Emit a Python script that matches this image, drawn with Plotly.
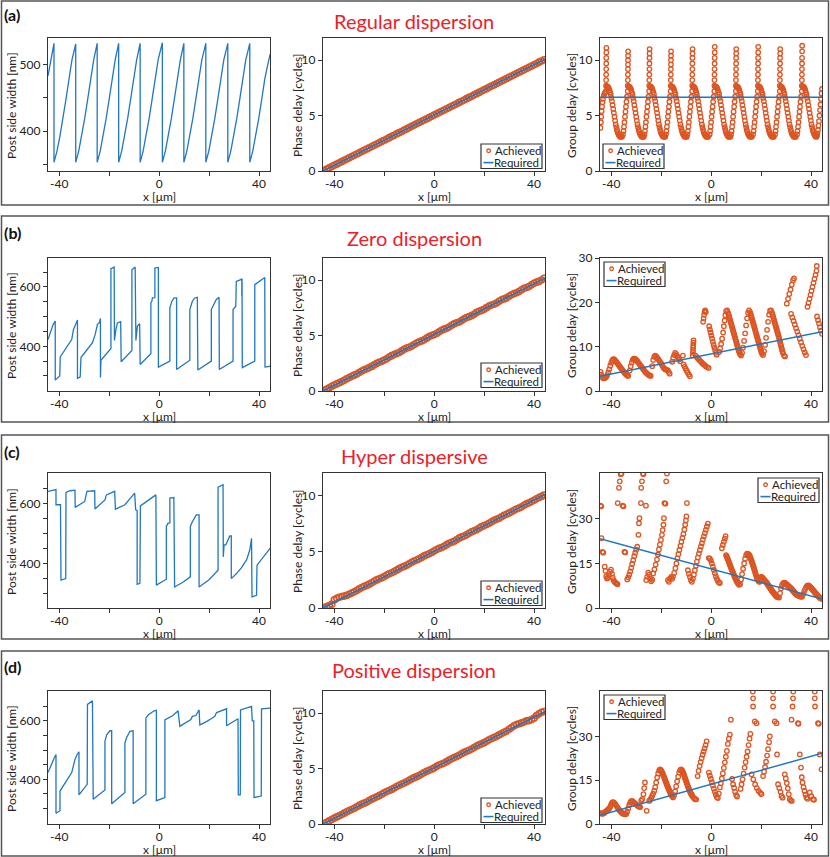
import plotly.graph_objects as go

# ---------------- data ----------------
# x positions [um] of the phase-delay markers
ph_x = [-44, -43, -42, -41, -40, -39, -38, -37, -36, -35,
        -34, -33, -32, -31, -30, -29, -28, -27, -26, -25,
        -24, -23, -22, -21, -20, -19, -18, -17, -16, -15,
        -14, -13, -12, -11, -10, -9, -8, -7, -6, -5,
        -4, -3, -2, -1, 0, 1, 2, 3, 4, 5,
        6, 7, 8, 9, 10, 11, 12, 13, 14, 15,
        16, 17, 18, 19, 20, 21, 22, 23, 24, 25,
        26, 27, 28, 29, 30, 31, 32, 33, 34, 35,
        36, 37, 38, 39, 40, 41, 42, 43, 44]
req_x = [-44.5, 44.5]

# (a) regular dispersion
sw_a_x = [-44.5, -43.3,
          -42.1, -42.1, -40.9, -39.7, -38.5, -37.3, -36.1, -34.9,
          -33.4, -33.4, -32.2, -31.0, -29.8, -28.6, -27.4, -26.2,
          -24.8, -24.8, -23.6, -22.4, -21.2, -20.0, -18.8, -17.6,
          -16.2, -16.2, -15.0, -13.8, -12.6, -11.4, -10.2, -9.0,
          -7.6, -7.6, -6.4, -5.2, -4.0, -2.8, -1.6, -0.4,
          1.3, 1.3, 2.5, 3.7, 4.9, 6.1, 7.3, 8.5,
          9.9, 9.9, 11.1, 12.3, 13.5, 14.7, 15.9, 17.1,
          18.7, 18.7, 19.9, 21.1, 22.3, 23.5, 24.7, 25.9,
          27.5, 27.5, 28.7, 29.9, 31.1, 32.3, 33.5, 34.7,
          36.3, 36.3, 37.5, 38.7, 39.9, 41.1, 42.3, 43.5, 44.5]
sw_a_y = [483, 507,
          532, 353, 370, 393, 419, 448, 478, 507,
          531, 353, 370, 393, 419, 448, 478, 507,
          532, 353, 370, 393, 419, 448, 478, 507,
          532, 353, 370, 393, 419, 448, 478, 507,
          532, 353, 370, 393, 419, 448, 478, 507,
          533, 353, 370, 393, 419, 448, 478, 507,
          532, 353, 370, 393, 419, 448, 478, 507,
          532, 353, 370, 393, 419, 448, 478, 507,
          532, 353, 370, 393, 419, 448, 478, 507,
          532, 353, 370, 393, 419, 448, 478, 500, 516]
ph_a = [0.06, 0.17, 0.28, 0.40, 0.51, 0.62, 0.74, 0.85, 0.96, 1.08,
        1.19, 1.31, 1.42, 1.53, 1.65, 1.76, 1.87, 1.99, 2.10, 2.21,
        2.33, 2.44, 2.55, 2.67, 2.78, 2.89, 3.01, 3.12, 3.23, 3.35,
        3.46, 3.57, 3.69, 3.80, 3.92, 4.03, 4.14, 4.26, 4.37, 4.48,
        4.60, 4.71, 4.82, 4.94, 5.05, 5.16, 5.28, 5.39, 5.50, 5.62,
        5.73, 5.84, 5.96, 6.07, 6.19, 6.30, 6.41, 6.53, 6.64, 6.75,
        6.87, 6.98, 7.09, 7.21, 7.32, 7.43, 7.55, 7.66, 7.77, 7.89,
        8.00, 8.11, 8.23, 8.34, 8.46, 8.57, 8.68, 8.80, 8.91, 9.02,
        9.14, 9.25, 9.36, 9.48, 9.59, 9.70, 9.82, 9.93, 10.04]
ph_req_a = [0.0, 10.1]
# group delay (a): one line per stroke (rise / near-vertical column / smooth hump)
gd_a_x = [
    -44.3, -44.15, -44.0, -43.85, -43.7, -43.5, -43.3, -43.0, -42.7, -42.4,
    -42.10, -42.08, -42.06, -42.04, -42.02, -42.00, -41.98, -41.96, -41.94,
    -41.70, -41.45, -41.20, -40.95, -40.70, -40.45, -40.20, -39.95, -39.70, -39.45, -39.20, -38.95, -38.70, -38.45, -38.20, -37.95, -37.70, -37.45, -37.20, -36.95, -36.70, -36.45, -36.20, -35.95, -35.70,
    -35.3, -35.1, -34.9, -34.7, -34.5, -34.3, -34.1, -33.9, -33.7,
    -33.40, -33.38, -33.36, -33.34, -33.32, -33.30, -33.28, -33.26, -33.24,
    -33.00, -32.75, -32.50, -32.25, -32.00, -31.75, -31.50, -31.25, -31.00, -30.75, -30.50, -30.25, -30.00, -29.75, -29.50, -29.25, -29.00, -28.75, -28.50, -28.25, -28.00, -27.75, -27.50, -27.25, -27.00,
    -26.7, -26.5, -26.3, -26.1, -25.9, -25.7, -25.5, -25.3, -25.1,
    -24.80, -24.78, -24.76, -24.74, -24.72, -24.70, -24.68, -24.66, -24.64,
    -24.40, -24.15, -23.90, -23.65, -23.40, -23.15, -22.90, -22.65, -22.40, -22.15, -21.90, -21.65, -21.40, -21.15, -20.90, -20.65, -20.40, -20.15, -19.90, -19.65, -19.40, -19.15, -18.90, -18.65, -18.40,
    -18.1, -17.9, -17.7, -17.5, -17.3, -17.1, -16.9, -16.7, -16.5,
    -16.20, -16.18, -16.16, -16.14, -16.12, -16.10, -16.08, -16.06, -16.04,
    -15.80, -15.55, -15.30, -15.05, -14.80, -14.55, -14.30, -14.05, -13.80, -13.55, -13.30, -13.05, -12.80, -12.55, -12.30, -12.05, -11.80, -11.55, -11.30, -11.05, -10.80, -10.55, -10.30, -10.05, -9.80,
    -9.5, -9.3, -9.1, -8.9, -8.7, -8.5, -8.3, -8.1, -7.9,
    -7.60, -7.58, -7.56, -7.54, -7.52, -7.50, -7.48, -7.46, -7.44,
    -7.20, -6.95, -6.70, -6.45, -6.20, -5.95, -5.70, -5.45, -5.20, -4.95, -4.70, -4.45, -4.20, -3.95, -3.70, -3.45, -3.20, -2.95, -2.70, -2.45, -2.20, -1.95, -1.70, -1.45, -1.20,
    -0.6, -0.4, -0.2, 0.0, 0.2, 0.4, 0.6, 0.8, 1.0,
    1.30, 1.32, 1.34, 1.36, 1.38, 1.40, 1.42, 1.44, 1.46,
    1.70, 1.95, 2.20, 2.45, 2.70, 2.95, 3.20, 3.45, 3.70, 3.95, 4.20, 4.45, 4.70, 4.95, 5.20, 5.45, 5.70, 5.95, 6.20, 6.45, 6.70, 6.95, 7.20, 7.45, 7.70,
    8.0, 8.2, 8.4, 8.6, 8.8, 9.0, 9.2, 9.4, 9.6,
    9.90, 9.92, 9.94, 9.96, 9.98, 10.00, 10.02, 10.04, 10.06,
    10.30, 10.55, 10.80, 11.05, 11.30, 11.55, 11.80, 12.05, 12.30, 12.55, 12.80, 13.05, 13.30, 13.55, 13.80, 14.05, 14.30, 14.55, 14.80, 15.05, 15.30, 15.55, 15.80, 16.05, 16.30,
    16.8, 17.0, 17.2, 17.4, 17.6, 17.8, 18.0, 18.2, 18.4,
    18.70, 18.72, 18.74, 18.76, 18.78, 18.80, 18.82, 18.84, 18.86,
    19.10, 19.35, 19.60, 19.85, 20.10, 20.35, 20.60, 20.85, 21.10, 21.35, 21.60, 21.85, 22.10, 22.35, 22.60, 22.85, 23.10, 23.35, 23.60, 23.85, 24.10, 24.35, 24.60, 24.85, 25.10,
    25.6, 25.8, 26.0, 26.2, 26.4, 26.6, 26.8, 27.0, 27.2,
    27.50, 27.52, 27.54, 27.56, 27.58, 27.60, 27.62, 27.64, 27.66,
    27.90, 28.15, 28.40, 28.65, 28.90, 29.15, 29.40, 29.65, 29.90, 30.15, 30.40, 30.65, 30.90, 31.15, 31.40, 31.65, 31.90, 32.15, 32.40, 32.65, 32.90, 33.15, 33.40, 33.65, 33.90,
    34.4, 34.6, 34.8, 35.0, 35.2, 35.4, 35.6, 35.8, 36.0,
    36.30, 36.32, 36.34, 36.36, 36.38, 36.40, 36.42, 36.44, 36.46,
    36.70, 36.95, 37.20, 37.45, 37.70, 37.95, 38.20, 38.45, 38.70, 38.95, 39.20, 39.45, 39.70, 39.95, 40.20, 40.45, 40.70, 40.95, 41.20, 41.45, 41.70, 41.95, 42.20,
    42.4, 42.6, 42.8, 43.0, 43.2, 43.4, 43.6, 43.8, 44.0, 44.2, 44.4,
]
gd_a_y = [
    3.9, 4.4, 4.9, 5.4, 5.8, 6.2, 6.5, 6.8, 7.0, 7.1,
    7.2, 7.7, 8.2, 8.7, 9.2, 9.7, 10.2, 10.7, 11.1,
    7.6, 7.6, 7.55, 7.45, 7.3, 7.1, 6.9, 6.6, 6.3, 5.95, 5.6, 5.25, 4.9, 4.55, 4.2, 3.95, 3.7, 3.5, 3.35, 3.25, 3.15, 3.1, 3.1, 3.1, 3.1,
    3.3, 3.6, 4.0, 4.4, 4.9, 5.35, 5.8, 6.25, 6.7,
    7.2, 7.7, 8.2, 8.7, 9.2, 9.6, 10.0, 10.4, 10.8,
    7.6, 7.6, 7.55, 7.45, 7.3, 7.1, 6.9, 6.6, 6.3, 5.95, 5.6, 5.25, 4.9, 4.55, 4.2, 3.95, 3.7, 3.5, 3.35, 3.25, 3.15, 3.1, 3.1, 3.1, 3.1,
    3.3, 3.6, 4.0, 4.4, 4.9, 5.35, 5.8, 6.25, 6.7,
    7.2, 7.7, 8.2, 8.7, 9.2, 9.7, 10.2, 10.6, 11.0,
    7.6, 7.6, 7.55, 7.45, 7.3, 7.1, 6.9, 6.6, 6.3, 5.95, 5.6, 5.25, 4.9, 4.55, 4.2, 3.95, 3.7, 3.5, 3.35, 3.25, 3.15, 3.1, 3.1, 3.1, 3.1,
    3.3, 3.6, 4.0, 4.4, 4.9, 5.35, 5.8, 6.25, 6.7,
    7.2, 7.7, 8.2, 8.7, 9.2, 9.6, 10.0, 10.4, 10.8,
    7.6, 7.6, 7.55, 7.45, 7.3, 7.1, 6.9, 6.6, 6.3, 5.95, 5.6, 5.25, 4.9, 4.55, 4.2, 3.95, 3.7, 3.5, 3.35, 3.25, 3.15, 3.1, 3.1, 3.1, 3.1,
    3.3, 3.6, 4.0, 4.4, 4.9, 5.35, 5.8, 6.25, 6.7,
    7.2, 7.7, 8.2, 8.7, 9.2, 9.7, 10.2, 10.6, 11.0,
    7.6, 7.6, 7.55, 7.45, 7.3, 7.1, 6.9, 6.6, 6.3, 5.95, 5.6, 5.25, 4.9, 4.55, 4.2, 3.95, 3.7, 3.5, 3.35, 3.25, 3.15, 3.1, 3.1, 3.1, 3.1,
    3.3, 3.6, 4.0, 4.4, 4.9, 5.35, 5.8, 6.25, 6.7,
    7.2, 7.7, 8.2, 8.7, 9.2, 9.7, 10.2, 10.7, 11.2,
    7.6, 7.6, 7.55, 7.45, 7.3, 7.1, 6.9, 6.6, 6.3, 5.95, 5.6, 5.25, 4.9, 4.55, 4.2, 3.95, 3.7, 3.5, 3.35, 3.25, 3.15, 3.1, 3.1, 3.1, 3.1,
    3.3, 3.6, 4.0, 4.4, 4.9, 5.35, 5.8, 6.25, 6.7,
    7.2, 7.7, 8.2, 8.7, 9.2, 9.7, 10.2, 10.6, 11.0,
    7.6, 7.6, 7.55, 7.45, 7.3, 7.1, 6.9, 6.6, 6.3, 5.95, 5.6, 5.25, 4.9, 4.55, 4.2, 3.95, 3.7, 3.5, 3.35, 3.25, 3.15, 3.1, 3.1, 3.1, 3.1,
    3.3, 3.6, 4.0, 4.4, 4.9, 5.35, 5.8, 6.25, 6.7,
    7.2, 7.7, 8.2, 8.7, 9.2, 9.7, 10.2, 10.7, 11.2,
    7.6, 7.6, 7.55, 7.45, 7.3, 7.1, 6.9, 6.6, 6.3, 5.95, 5.6, 5.25, 4.9, 4.55, 4.2, 3.95, 3.7, 3.5, 3.35, 3.25, 3.15, 3.1, 3.1, 3.1, 3.1,
    3.3, 3.6, 4.0, 4.4, 4.9, 5.35, 5.8, 6.25, 6.7,
    7.2, 7.7, 8.2, 8.7, 9.2, 9.7, 10.2, 10.6, 11.0,
    7.6, 7.6, 7.55, 7.45, 7.3, 7.1, 6.9, 6.6, 6.3, 5.95, 5.6, 5.25, 4.9, 4.55, 4.2, 3.95, 3.7, 3.5, 3.35, 3.25, 3.15, 3.1, 3.1, 3.1, 3.1,
    3.3, 3.6, 4.0, 4.4, 4.9, 5.35, 5.8, 6.25, 6.7,
    7.2, 7.7, 8.2, 8.7, 9.2, 9.7, 10.2, 10.8, 11.3,
    7.6, 7.6, 7.55, 7.45, 7.3, 7.1, 6.9, 6.6, 6.3, 5.95, 5.6, 5.25, 4.9, 4.55, 4.2, 3.95, 3.7, 3.5, 3.35, 3.25, 3.15, 3.1, 3.1,
    3.2, 3.4, 3.7, 4.1, 4.5, 5.0, 5.5, 6.0, 6.5, 7.0, 7.4,
]
gd_req_a = [6.65, 6.65]

# (b) zero dispersion
sw_b_x = [-44.5, -42.7, -42.4, -41.6, -41.6, -39.8, -39.6, -35.0, -34.3, -33.4,
          -32.7, -32.7, -31.6, -31.3, -26.7, -25.6, -24.7, -24.0, -23.5, -23.5,
          -23.3, -19.3, -19.3, -18.0, -17.9, -17.3, -16.7, -15.4, -15.2, -10.9,
          -10.9, -9.6, -9.3, -8.7, -7.8, -7.6, -3.3, -3.3, -2.9, -2.7,
          -1.7, -1.7, -0.3, -0.3, 4.3, 4.3, 5.1, 6.0, 7.0, 7.0,
          12.3, 12.3, 13.3, 14.3, 15.3, 15.5, 20.9, 20.9, 22.0, 22.9,
          24.0, 24.1, 29.6, 29.6, 30.7, 30.9, 32.7, 33.1, 33.1, 33.2,
          33.3, 38.3, 38.3, 40.0, 41.3, 42.3, 42.4, 44.5]
sw_b_y = [423, 468, 474, 485, 286, 300, 364, 423, 457, 474,
          489, 292, 297, 362, 412, 440, 474, 479, 494, 295,
          353, 393, 662, 667, 420, 457, 479, 483, 348, 386,
          658, 667, 420, 468, 476, 339, 375, 546, 552, 563,
          564, 664, 666, 330, 350, 530, 552, 563, 563, 322,
          353, 524, 552, 563, 565, 320, 350, 524, 541, 558,
          565, 322, 350, 524, 535, 619, 625, 628, 569, 628,
          328, 350, 608, 619, 628, 632, 330, 333]
ph_b = [0.06, 0.17, 0.29, 0.42, 0.54, 0.64, 0.74, 0.85, 0.97, 1.10,
        1.22, 1.33, 1.43, 1.54, 1.67, 1.80, 1.91, 2.01, 2.11, 2.22,
        2.36, 2.49, 2.60, 2.69, 2.79, 2.91, 3.06, 3.19, 3.29, 3.38,
        3.48, 3.62, 3.76, 3.87, 3.95, 4.05, 4.19, 4.33, 4.44, 4.52,
        4.62, 4.77, 4.91, 5.01, 5.09, 5.19, 5.34, 5.48, 5.58, 5.66,
        5.77, 5.93, 6.06, 6.15, 6.23, 6.35, 6.51, 6.63, 6.71, 6.80,
        6.93, 7.09, 7.20, 7.27, 7.37, 7.52, 7.66, 7.76, 7.83, 7.94,
        8.10, 8.23, 8.31, 8.40, 8.55, 8.69, 8.79, 8.86, 8.98, 9.14,
        9.26, 9.34, 9.43, 9.58, 9.72, 9.82, 9.89, 10.02, 10.17]
ph_req_b = [0.0, 10.2]
gd_b = [
    (-44.3, 4.3), (-44.0, 3.7), (-43.6, 3.1), (-43.2, 2.9), (-42.8, 2.9), (-42.4, 3.0), (-42.0, 3.2), (-41.6, 3.6), (-41.2, 4.2), (-40.8, 4.9),
    (-40.4, 5.7), (-40.0, 6.4), (-39.6, 6.9), (-39.2, 7.2), (-38.8, 7.1), (-38.4, 6.9), (-38.0, 6.6), (-37.6, 6.3), (-37.2, 6.0), (-36.8, 5.7),
    (-36.4, 5.4), (-36.0, 5.1), (-35.6, 4.8), (-35.2, 4.5), (-34.8, 4.2), (-34.4, 3.9), (-34.0, 3.7), (-33.6, 3.5), (-33.2, 3.4),
    (-32.6, 4.6), (-32.2, 5.6), (-31.8, 6.4), (-31.4, 7.0), (-31.0, 7.3), (-30.6, 7.3), (-30.2, 7.1), (-29.8, 6.9), (-29.4, 6.6), (-29.0, 6.3),
    (-28.6, 6.0), (-28.2, 5.7), (-27.8, 5.4), (-27.4, 5.1), (-27.0, 4.8), (-26.6, 4.5), (-26.2, 4.2), (-25.8, 4.0), (-25.4, 3.8), (-25.0, 3.6),
    (-24.6, 3.5), (-24.2, 3.4),
    (-23.6, 5.6), (-23.2, 7.0), (-22.8, 7.7), (-22.4, 8.0), (-22.0, 7.8), (-21.6, 7.5), (-21.2, 7.2), (-20.8, 6.9), (-20.4, 6.5), (-20.0, 6.2),
    (-19.6, 5.8), (-19.2, 5.4), (-18.8, 5.1), (-18.4, 4.9), (-18.0, 4.8), (-17.4, 4.7), (-17.0, 4.3), (-16.6, 3.9),
    (-15.6, 6.6), (-15.2, 7.5), (-14.8, 8.1), (-14.4, 8.6), (-14.0, 8.3), (-13.6, 7.9), (-13.2, 7.5), (-12.8, 7.1), (-12.4, 6.7), (-11.3, 8.0),
    (-11.0, 6.0), (-10.6, 5.5), (-10.2, 5.0), (-9.8, 4.6), (-9.4, 4.2), (-8.9, 3.7), (-8.5, 3.3),
    (-7.4, 8.0), (-7.3, 8.6), (-7.25, 9.2), (-7.2, 9.8), (-7.15, 10.3), (-7.1, 10.9), (-7.05, 11.4),
    (-6.2, 8.0), (-5.7, 7.6), (-5.2, 7.3), (-4.7, 7.0), (-4.2, 6.7), (-3.7, 6.4), (-3.2, 6.1), (-2.7, 5.9), (-2.2, 5.6), (-1.6, 5.4), (-1.0, 5.2),
    (-3.2, 15.6), (-3.0, 16.4), (-2.8, 17.2), (-2.6, 17.9), (-2.4, 18.2), (-2.1, 17.8),
    (-0.8, 14.6), (-0.5, 13.9), (-0.2, 13.2), (0.1, 12.5), (0.4, 11.8), (0.7, 11.1), (1.0, 10.4), (1.3, 9.8), (1.6, 9.2), (1.9, 8.6), (2.2, 8.2),
    (3.2, 8.8), (3.6, 9.6), (4.0, 10.6), (4.4, 11.8), (4.8, 13.2), (5.1, 14.6), (5.4, 15.9), (5.7, 17.1), (6.0, 18.0), (6.4, 18.2),
    (6.8, 17.6), (7.0, 17.2), (7.2, 16.8), (7.4, 16.4), (7.6, 16.0), (7.8, 15.6), (8.0, 15.2), (8.2, 14.8), (8.4, 14.4), (8.6, 14.0),
    (8.8, 13.6), (9.0, 13.2), (9.2, 12.8), (9.4, 12.4), (9.6, 12.0), (9.8, 11.6), (10.0, 11.2), (10.2, 10.8), (10.4, 10.4), (10.6, 10.0),
    (10.8, 9.6), (11.0, 9.2), (11.2, 8.9), (11.4, 8.6), (11.6, 8.3), (12.0, 8.0),
    (12.4, 8.6), (12.8, 9.8), (13.2, 11.3), (13.6, 13.0), (14.0, 14.8), (14.4, 16.4), (14.8, 17.6), (15.2, 18.2), (15.6, 17.8), (15.8, 17.4),
    (16.0, 17.0), (16.2, 16.6), (16.4, 16.2), (16.6, 15.8), (16.8, 15.4), (17.0, 15.0), (17.2, 14.6), (17.4, 14.2), (17.6, 13.8), (17.8, 13.4),
    (18.0, 13.0), (18.2, 12.6), (18.4, 12.2), (18.6, 11.8), (18.8, 11.4), (19.0, 11.0), (19.2, 10.6), (19.4, 10.2), (19.6, 9.8), (19.8, 9.4),
    (20.0, 9.0), (20.2, 8.7), (20.4, 8.4), (20.8, 8.1),
    (21.2, 9.0), (21.6, 10.4), (22.0, 12.0), (22.4, 13.8), (22.8, 15.6), (23.2, 17.2), (23.6, 18.1), (24.0, 18.2), (24.4, 17.6), (24.6, 17.2),
    (24.8, 16.8), (25.0, 16.4), (25.2, 16.0), (25.4, 15.6), (25.6, 15.2), (25.8, 14.8), (26.0, 14.4), (26.2, 14.0), (26.4, 13.6), (26.6, 13.2),
    (26.8, 12.8), (27.0, 12.4), (27.2, 12.0), (27.4, 11.5), (27.6, 11.1), (27.8, 10.6), (28.0, 10.2), (28.2, 9.7), (28.4, 9.3), (28.6, 8.9),
    (28.8, 8.5), (29.2, 8.0), (29.6, 7.8),
    (30.3, 19.7), (30.8, 20.8), (31.3, 21.9), (31.8, 22.9), (32.3, 24.0), (32.8, 25.0), (33.2, 25.4),
    (32.0, 17.4), (32.5, 16.6), (33.0, 15.8), (33.5, 15.0), (34.0, 14.2), (34.5, 13.4), (35.0, 12.6), (35.5, 11.8), (36.0, 11.0), (36.5, 10.2),
    (37.0, 9.4), (37.5, 8.7), (38.0, 8.1),
    (38.6, 19.0), (39.0, 19.9), (39.4, 20.8), (39.8, 21.7), (40.2, 22.6), (40.6, 23.5), (41.0, 24.4), (41.4, 25.3), (41.8, 26.2), (42.2, 27.1),
    (42.3, 28.2),
    (42.4, 16.8), (42.8, 16.0), (43.2, 15.2), (43.6, 14.4), (44.0, 13.6), (44.4, 12.9),
]
gd_req_b = [3.3, 13.4]

# (c) hyper dispersive
sw_c_x = [-44.5, -42.0, -41.3, -41.3, -40.0, -39.5, -39.3, -37.4, -37.3, -35.7,
          -33.7, -33.6, -29.8, -29.4, -28.9, -25.8, -25.7, -21.7, -21.1, -17.8,
          -17.5, -13.7, -9.8, -9.4, -8.8, -8.8, -7.7, -7.5, -1.3, -1.1,
          2.9, 2.9, 3.6, 4.3, 4.3, 5.9, 5.9, 6.2, 9.5, 12.5,
          12.5, 13.3, 14.9, 16.0, 16.0, 20.0, 23.6, 23.6, 25.6, 25.7,
          26.0, 26.7, 28.3, 28.9, 28.9, 31.0, 33.0, 35.0, 36.3, 37.0,
          37.2, 39.0, 39.2, 42.0, 44.5]
sw_c_y = [642, 646, 648, 597, 598, 597, 344, 349, 638, 644,
          646, 588, 608, 630, 642, 644, 583, 613, 630, 642,
          582, 597, 636, 580, 578, 330, 333, 593, 630, 327,
          347, 524, 535, 536, 619, 621, 563, 321, 337, 355,
          524, 540, 563, 563, 321, 345, 377, 656, 664, 422,
          462, 462, 492, 492, 349, 366, 386, 412, 445, 484,
          288, 293, 394, 425, 451]
ph_c = [0.03, 0.12, 0.22, 0.33, 0.72, 0.86, 0.95, 1.02, 1.06, 1.12,
        1.22, 1.33, 1.44, 1.56, 1.70, 1.82, 1.92, 2.01, 2.12, 2.24,
        2.38, 2.50, 2.59, 2.68, 2.80, 2.93, 3.05, 3.14, 3.24, 3.37,
        3.50, 3.62, 3.70, 3.80, 3.93, 4.07, 4.18, 4.27, 4.37, 4.50,
        4.63, 4.74, 4.82, 4.93, 5.07, 5.20, 5.30, 5.38, 5.49, 5.63,
        5.76, 5.85, 5.94, 6.07, 6.21, 6.32, 6.40, 6.51, 6.65, 6.78,
        6.87, 6.96, 7.09, 7.23, 7.33, 7.42, 7.54, 7.67, 7.79, 7.88,
        7.98, 8.11, 8.24, 8.34, 8.44, 8.56, 8.69, 8.80, 8.89, 9.00,
        9.13, 9.26, 9.36, 9.46, 9.58, 9.71, 9.82, 9.92, 10.05]
ph_req_c = [0.0, 10.1]
gd_c = [
    (-44.3, 34.4), (-44.0, 34.2), (-43.9, 23.5), (-43.5, 18.9), (-43.2, 18.6), (-42.6, 13.9), (-42.3, 12.5), (-42.0, 10.7), (-41.7, 9.9), (-41.4, 10.2),
    (-41.0, 11.0), (-40.5, 12.2), (-40.1, 12.9), (-39.7, 11.5), (-39.4, 10.2), (-39.1, 9.4), (-38.7, 8.9), (-38.3, 8.5), (-37.9, 8.2), (-37.5, 8.0),
    (-37.4, 35.3), (-36.9, 40.4), (-36.6, 42.6), (-36.2, 45.0), (-35.9, 45.2), (-35.4, 34.4), (-35.1, 34.2), (-34.7, 18.9), (-34.4, 18.7),
    (-33.6, 9.6), (-33.2, 10.3), (-32.8, 11.2), (-32.4, 12.3), (-32.0, 13.5), (-31.6, 14.8), (-31.2, 16.1), (-30.8, 17.4), (-30.4, 18.6), (-30.0, 19.6),
    (-29.6, 20.6), (-29.1, 24.6), (-28.9, 28.5), (-28.7, 30.2),
    (-28.1, 35.3), (-28.0, 40.4), (-27.7, 42.6), (-27.3, 45.2), (-27.1, 45.0), (-26.1, 34.4),
    (-26.0, 9.4), (-25.6, 10.5), (-25.2, 11.9), (-24.8, 11.2), (-24.4, 9.9), (-24.0, 9.0), (-23.6, 9.5),
    (-23.2, 11.6), (-22.7, 13.0), (-22.2, 14.6), (-21.7, 16.3), (-21.3, 18.0), (-20.9, 19.7), (-20.5, 21.3), (-20.1, 22.9), (-19.7, 24.6), (-19.4, 26.2),
    (-19.1, 28.0), (-18.9, 30.2), (-18.7, 35.3), (-18.3, 35.1), (-18.0, 42.6), (-17.7, 45.2),
    (-17.3, 9.4), (-16.9, 8.8), (-16.5, 9.9), (-16.0, 10.5), (-15.6, 9.8),
    (-15.3, 10.5), (-14.8, 11.8), (-14.3, 13.4), (-13.9, 15.0), (-13.5, 16.7), (-13.1, 18.1), (-12.7, 19.5), (-12.3, 20.9), (-11.9, 22.3), (-11.5, 23.6),
    (-11.1, 24.9), (-10.7, 26.4), (-10.4, 28.0), (-10.1, 29.5), (-9.9, 30.8), (-9.7, 35.3),
    (-9.3, 12.7), (-8.9, 11.5), (-8.5, 10.5), (-8.1, 9.4), (-7.7, 8.8), (-7.3, 9.8), (-6.9, 11.2), (-6.5, 12.7),
    (-6.1, 14.2), (-5.7, 15.6), (-5.3, 17.0), (-4.9, 18.3), (-4.5, 19.5), (-4.1, 20.7), (-3.7, 21.8), (-3.3, 23.0), (-2.9, 24.1), (-2.5, 25.2),
    (-2.1, 26.3), (-1.7, 27.4), (-1.3, 28.4),
    (-0.9, 16.8), (-0.5, 16.6), (-0.1, 16.0), (0.3, 15.0), (0.7, 13.9), (1.1, 12.8), (1.5, 11.7), (1.9, 10.7), (2.3, 9.8), (2.7, 9.1),
    (3.1, 8.6), (3.5, 8.4),
    (4.3, 20.1), (4.7, 21.2), (5.1, 22.3), (5.5, 23.3), (5.8, 24.2),
    (6.0, 17.8), (6.2, 17.4), (6.4, 17.0), (6.6, 16.6), (6.8, 16.2), (7.0, 15.7), (7.2, 15.3), (7.4, 14.8), (7.6, 14.4), (7.8, 13.9),
    (8.0, 13.5), (8.2, 13.0), (8.4, 12.6), (8.6, 12.2), (8.8, 11.8), (9.0, 11.4), (9.2, 11.0), (9.4, 10.6), (9.6, 10.2), (9.8, 9.8),
    (10.0, 9.5), (10.2, 9.1), (10.4, 8.8), (10.6, 8.5), (10.8, 8.2), (11.2, 7.8), (11.6, 8.0),
    (12.0, 9.6), (12.4, 11.4), (12.8, 13.2), (13.2, 15.0), (13.6, 16.6), (14.0, 17.8), (14.4, 18.3), (14.8, 18.2), (15.2, 17.9), (15.4, 17.6),
    (15.6, 17.2), (15.8, 16.8), (16.0, 16.3), (16.2, 15.8), (16.4, 15.3), (16.6, 14.8), (16.8, 14.3), (17.0, 13.8), (17.2, 13.2), (17.4, 12.7),
    (17.6, 12.1), (17.8, 11.6), (18.0, 11.0), (18.2, 10.5), (18.4, 10.0), (18.6, 9.6), (18.8, 9.3), (19.2, 8.8), (19.6, 8.9),
    (20.0, 10.5), (20.2, 10.4), (20.4, 10.3), (20.6, 10.1), (20.8, 9.9), (21.0, 9.7), (21.2, 9.5), (21.4, 9.3), (21.6, 9.1), (21.8, 8.9),
    (22.0, 8.7), (22.2, 8.5), (22.4, 8.3), (22.6, 8.0), (22.8, 7.8), (23.0, 7.5), (23.2, 7.3), (23.4, 7.0), (23.6, 6.8), (23.8, 6.5),
    (24.0, 6.3), (24.2, 6.0), (24.4, 5.8), (24.6, 5.5), (24.8, 5.3), (25.0, 5.1), (25.2, 4.9), (25.4, 4.7), (25.6, 4.5), (25.8, 4.3),
    (26.0, 4.1), (26.2, 3.9), (26.4, 3.8), (26.8, 3.6), (27.2, 3.5),
    (27.6, 5.0), (28.0, 6.6), (28.4, 7.7), (28.8, 8.3), (29.2, 8.5), (29.6, 8.4), (30.0, 8.1), (30.2, 8.0), (30.4, 7.8), (30.6, 7.65),
    (30.8, 7.5), (31.0, 7.35), (31.2, 7.2), (31.4, 7.05), (31.6, 6.9), (31.8, 6.75), (32.0, 6.6), (32.2, 6.4), (32.4, 6.2), (32.6, 6.0),
    (32.8, 5.8), (33.0, 5.6), (33.2, 5.4), (33.4, 5.2), (33.6, 5.0), (33.8, 4.85), (34.0, 4.7), (34.2, 4.55), (34.4, 4.4), (34.8, 4.2),
    (35.2, 4.0), (35.6, 3.9), (36.0, 3.8), (36.4, 3.8),
    (36.8, 4.5), (37.2, 5.4), (37.6, 6.2), (38.0, 6.9), (38.4, 7.4), (38.8, 7.6), (39.2, 7.5), (39.6, 7.2), (39.8, 7.0), (40.0, 6.8),
    (40.2, 6.6), (40.4, 6.4), (40.6, 6.2), (40.8, 6.0), (41.0, 5.8), (41.2, 5.6), (41.4, 5.4), (41.6, 5.2), (41.8, 5.0), (42.0, 4.8),
    (42.2, 4.6), (42.4, 4.4), (42.6, 4.2), (42.8, 4.0), (43.2, 3.7), (43.6, 3.4), (44.0, 3.2), (44.4, 3.1),
]
gd_req_c = [23.3, 3.0]

# (d) positive dispersion
sw_d_x = [-44.5, -42.5, -42.0, -41.3, -41.3, -39.7, -39.7, -35.0, -33.7, -32.8,
          -32.1, -32.1, -28.8, -28.7, -26.7, -26.4, -21.7, -21.7, -21.0, -19.7,
          -19.0, -19.0, -13.7, -13.7, -13.1, -11.7, -10.4, -10.4, -5.3, -5.3,
          -4.4, -2.0, -1.1, -1.1, 2.3, 2.3, 4.0, 5.5, 7.6, 8.3,
          12.7, 13.3, 14.7, 16.0, 16.3, 19.0, 21.6, 22.3, 23.0, 27.0,
          27.0, 31.6, 31.7, 32.5, 32.6, 37.0, 37.3, 37.9, 38.0, 40.9,
          41.0, 44.5]
sw_d_y = [423, 468, 473, 485, 284, 293, 360, 423, 468, 485,
          494, 347, 383, 656, 668, 332, 364, 530, 552, 566,
          566, 317, 355, 524, 541, 564, 566, 317, 349, 609,
          620, 634, 636, 327, 338, 603, 612, 618, 634, 581,
          604, 615, 618, 637, 586, 597, 611, 615, 628, 641,
          583, 607, 347, 347, 637, 649, 600, 600, 338, 343,
          641, 643]
ph_d = [0.05, 0.16, 0.28, 0.41, 0.53, 0.64, 0.74, 0.85, 0.98, 1.10,
        1.21, 1.31, 1.42, 1.55, 1.68, 1.79, 1.88, 1.99, 2.12, 2.24,
        2.35, 2.45, 2.56, 2.69, 2.82, 2.93, 3.02, 3.12, 3.25, 3.38,
        3.50, 3.60, 3.70, 3.81, 3.94, 4.07, 4.18, 4.27, 4.38, 4.51,
        4.64, 4.75, 4.84, 4.94, 5.06, 5.20, 5.32, 5.41, 5.51, 5.63,
        5.77, 5.89, 5.99, 6.09, 6.20, 6.34, 6.46, 6.56, 6.66, 6.77,
        6.90, 7.03, 7.14, 7.23, 7.34, 7.47, 7.60, 7.71, 7.80, 7.91,
        8.04, 8.17, 8.28, 8.38, 8.55, 8.70, 8.86, 8.97, 9.05, 9.12,
        9.20, 9.30, 9.33, 9.42, 9.55, 9.78, 9.95, 10.08, 10.15]
ph_req_d = [0.0, 10.15]
gd_d = [
    (-44.4, 3.7), (-44.0, 3.6), (-43.6, 3.5), (-43.2, 3.6), (-42.8, 3.8), (-42.4, 4.1), (-42.0, 4.4), (-41.6, 4.7), (-41.2, 5.0), (-40.8, 5.3),
    (-40.4, 5.9), (-40.0, 6.8), (-39.6, 7.4), (-39.2, 7.5), (-38.8, 7.2), (-38.4, 6.8), (-38.0, 6.3), (-37.6, 5.8), (-37.2, 5.3), (-36.8, 4.8),
    (-36.4, 4.4), (-36.0, 4.0), (-35.6, 3.7), (-35.2, 3.5), (-34.8, 3.4), (-34.4, 3.3), (-34.0, 3.4),
    (-33.6, 4.2), (-33.2, 5.3), (-32.8, 6.5), (-32.4, 7.3), (-32.0, 7.8), (-31.6, 7.9), (-31.2, 7.6), (-30.8, 7.3), (-30.4, 7.0), (-30.0, 6.7),
    (-29.6, 6.4), (-29.2, 6.1), (-28.8, 5.9), (-28.4, 5.8), (-28.0, 8.0), (-27.6, 8.5), (-27.1, 10.2), (-26.8, 12.3), (-26.5, 14.2), (-25.8, 4.5),
    (-24.8, 7.9), (-24.4, 8.3), (-24.0, 8.9), (-23.6, 9.6), (-23.2, 10.4), (-22.8, 11.3), (-22.4, 12.6), (-22.0, 14.2), (-21.6, 15.9), (-21.2, 17.3),
    (-20.8, 18.3), (-20.4, 18.7), (-20.0, 18.3), (-19.8, 18.0), (-19.6, 17.6), (-19.4, 17.2), (-19.2, 16.8), (-19.0, 16.4), (-18.8, 15.9), (-18.6, 15.5),
    (-18.4, 15.0), (-18.2, 14.6), (-18.0, 14.1), (-17.8, 13.7), (-17.6, 13.2), (-17.4, 12.8), (-17.2, 12.4), (-17.0, 12.0), (-16.8, 11.6), (-16.6, 11.2),
    (-16.4, 10.8), (-16.2, 10.4), (-16.0, 10.1), (-15.8, 9.8), (-15.6, 9.5), (-15.2, 9.1),
    (-14.8, 9.8), (-14.4, 11.2), (-14.0, 12.9), (-13.6, 14.6), (-13.2, 16.2), (-12.8, 17.6), (-12.4, 18.4), (-12.0, 18.7), (-11.6, 18.3), (-11.4, 17.9),
    (-11.2, 17.5), (-11.0, 17.1), (-10.8, 16.6), (-10.6, 16.1), (-10.4, 15.6), (-10.2, 15.1), (-10.0, 14.6), (-9.8, 14.1), (-9.6, 13.6), (-9.4, 13.1),
    (-9.2, 12.7), (-9.0, 12.2), (-8.8, 11.8), (-8.6, 11.4), (-8.4, 11.0), (-8.2, 10.6), (-8.0, 10.3), (-7.8, 10.0), (-7.6, 9.7), (-7.2, 9.2),
    (-6.8, 8.8), (-6.4, 8.5), (-6.0, 8.4),
    (-5.4, 16.4), (-5.0, 18.2), (-4.6, 19.8), (-4.2, 21.2), (-3.8, 22.5), (-3.4, 23.7), (-3.0, 24.8), (-2.6, 25.9), (-2.2, 27.0), (-1.8, 28.3),
    (-0.9, 17.6), (-0.5, 16.5), (-0.1, 15.4), (0.3, 14.3), (0.7, 13.2), (1.1, 12.1), (1.5, 11.0), (1.9, 10.0), (2.3, 9.2), (2.7, 8.9),
    (3.1, 10.4), (3.5, 12.5), (3.9, 13.9), (4.3, 15.6), (4.7, 17.3), (5.1, 19.2), (5.5, 21.1), (5.9, 23.0), (6.3, 25.0), (6.7, 27.4),
    (7.1, 29.2), (7.5, 30.6), (7.9, 35.7),
    (8.4, 15.4), (8.8, 13.6), (9.2, 12.4), (9.6, 11.0), (10.0, 9.9), (10.4, 9.4),
    (11.8, 12.0), (12.2, 13.6), (12.6, 15.3), (13.0, 17.2), (13.4, 19.3), (13.8, 21.2), (14.2, 23.0), (14.6, 24.8), (15.0, 27.0), (15.4, 29.2),
    (15.7, 30.8),
    (16.7, 45.3), (16.8, 43.0), (16.8, 40.2), (17.5, 35.1), (18.2, 34.5),
    (16.2, 17.0), (16.9, 15.3), (17.6, 13.6), (18.3, 12.3), (19.0, 11.3), (19.7, 10.6), (20.2, 10.2),
    (20.8, 16.4), (21.2, 17.9), (21.6, 19.5), (22.0, 21.3), (22.4, 23.4), (22.8, 25.6), (23.2, 28.0), (23.5, 30.0),
    (24.8, 45.3), (24.8, 43.0), (24.8, 40.2), (25.5, 35.1), (26.2, 34.5), (26.4, 23.8),
    (26.8, 13.6), (27.3, 12.3), (27.8, 11.0), (28.2, 9.6), (28.6, 9.0),
    (29.5, 17.0), (29.9, 15.6), (30.3, 14.0), (30.7, 12.2), (31.1, 10.2), (31.5, 8.5), (31.9, 8.0), (32.3, 7.9),
    (32.2, 35.7), (32.6, 40.2), (32.8, 43.0), (32.9, 45.3), (34.8, 34.5), (35.0, 34.3),
    (35.5, 23.8), (36.0, 19.3), (36.3, 16.0), (36.6, 14.2), (37.0, 12.6), (37.4, 11.3), (37.8, 10.0), (38.2, 9.1), (38.6, 8.6),
    (39.5, 10.8), (40.1, 9.5), (40.8, 8.5), (41.2, 8.3), (41.5, 45.3), (41.5, 43.0), (41.6, 40.2), (42.8, 34.5), (43.1, 34.3), (43.5, 23.8),
    (44.2, 18.7),
]
gd_req_d = [3.0, 24.2]

labels = ["(a)", "(b)", "(c)", "(d)"]
titles = ["Regular dispersion", "Zero dispersion", "Hyper dispersive", "Positive dispersion"]

# ---------------- layout helpers (pixel positions of the original page) ----------------
W, H = 830, 857
FONT = "Lato"
BLUE = "#2177c1"
ORANGE = "#dc5522"
DARK = "#333333"
TXT = "#222222"


def fx(px):
    return px / W


def fy(px):
    return 1 - px / H


cols = [(48, 270), (323, 545), (600, 822)]
rows = [(38, 171), (258, 391), (473, 608), (691, 824)]
boxes = [(1, 205), (216, 422), (435, 639), (651, 856)]
label_y = [15, 232, 451, 666]
title_y = [21, 238, 456, 670]
xlab_off = 25.5
# legend boxes (x0, y0) for the phase panel and the group delay panel
leg_ph = [(481, 144), (481, 363), (481, 581), (481, 798)]
leg_gd = [(603, 144), (604, 262), (758, 478), (604, 695)]

saw = [(sw_a_x, sw_a_y), (sw_b_x, sw_b_y), (sw_c_x, sw_c_y), (sw_d_x, sw_d_y)]
phase = [(ph_a, ph_req_a), (ph_b, ph_req_b), (ph_c, ph_req_c), (ph_d, ph_req_d)]
group = [(gd_a_x, gd_a_y, gd_req_a),
         ([p[0] for p in gd_b], [p[1] for p in gd_b], gd_req_b),
         ([p[0] for p in gd_c], [p[1] for p in gd_c], gd_req_c),
         ([p[0] for p in gd_d], [p[1] for p in gd_d], gd_req_d)]

sw_axis = [
    ([340, 540], [350, 400, 450, 500], ["", "400", "", "500"]),
    ([249.4, 697.7], [300, 350, 400, 450, 500, 550, 600, 650], ["", "", "400", "", "", "", "600", ""]),
    ([250.4, 703.5], [300, 350, 400, 450, 500, 550, 600, 650], ["", "", "400", "", "", "", "600", ""]),
    ([247.5, 701.7], [300, 350, 400, 450, 500, 550, 600, 650], ["", "", "400", "", "", "", "600", ""]),
]
gd_axis = [
    ([0, 12], [0, 5, 10], ["0", "5", "10"]),
    ([0, 30], [0, 10, 20, 30], ["0", "10", "20", "30"]),
    ([0, 45.4], [0, 15, 30], ["0", "15", "30"]),
    ([0, 45.5], [0, 15, 30], ["0", "15", "30"]),
]
ph_axis = ([0, 12], [0, 5, 10], ["0", "5", "10"])
x_axis = ([-44.5, 44.4], [-40, -20, 0, 20, 40], ["-40", "", "0", "", "40"])


def axis(domain, anchor, spec, standoff=0):
    rng, vals, text = spec
    return dict(domain=domain, anchor=anchor, range=rng, tickvals=vals, ticktext=text,
                showline=True, mirror=True, linecolor=DARK, linewidth=1.2,
                ticks="outside", ticklen=4, tickwidth=1, tickcolor=DARK,
                ticklabelstandoff=standoff, automargin=False,
                showgrid=False, zeroline=False, fixedrange=True,
                tickfont=dict(family=FONT, size=12, color=TXT))


fig = go.Figure()
layout = {}
annotations = []
shapes = []


def add_text(text, x, y, size=12, color=TXT, angle=0, xanchor="center", bold=False):
    if bold:
        text = "<b>" + text + "</b>"
    annotations.append(dict(text=text, x=fx(x), y=fy(y), xref="paper", yref="paper",
                            showarrow=False, xanchor=xanchor, yanchor="middle", textangle=angle,
                            borderpad=0, font=dict(family=FONT, size=size, color=color)))


def add_legend(x0, y0):
    x1, y1 = x0 + 61, y0 + 24.5
    shapes.append(dict(type="rect", xref="paper", yref="paper", x0=fx(x0), x1=fx(x1),
                       y0=fy(y1), y1=fy(y0), line=dict(color=DARK, width=1.2),
                       fillcolor="white", layer="above"))
    cy1, cy2 = y0 + 6.8, y0 + 18.6
    shapes.append(dict(type="circle", xref="paper", yref="paper", x0=fx(x0 + 5.8), x1=fx(x0 + 9.4),
                       y0=fy(cy1 + 1.8), y1=fy(cy1 - 1.8), line=dict(color=ORANGE, width=1.3),
                       layer="above"))
    shapes.append(dict(type="line", xref="paper", yref="paper", x0=fx(x0 + 2.5), x1=fx(x0 + 12.5),
                       y0=fy(cy2), y1=fy(cy2), line=dict(color=BLUE, width=1.6), layer="above"))
    add_text("Achieved", x0 + 13, cy1, size=11.5, xanchor="left")
    add_text("Required", x0 + 12.3, cy2, size=11.5, xanchor="left")


for r in range(4):
    top, bot = rows[r]
    ydom = [fy(bot), fy(top)]
    for c in range(3):
        k = r * 3 + c + 1
        xa = "x" if k == 1 else f"x{k}"
        ya = "y" if k == 1 else f"y{k}"
        xdom = [fx(cols[c][0]), fx(cols[c][1])]
        layout["xaxis" if k == 1 else f"xaxis{k}"] = axis(xdom, ya, x_axis, standoff=-3)
        yspec = [sw_axis[r], ph_axis, gd_axis[r]][c]
        layout["yaxis" if k == 1 else f"yaxis{k}"] = axis(ydom, xa, yspec)

        if c == 0:
            sx, sy = saw[r]
            fig.add_trace(go.Scatter(x=sx, y=sy, mode="lines", xaxis=xa, yaxis=ya,
                                     line=dict(color=BLUE, width=1.3)))
        elif c == 1:
            ach, req = phase[r]
            fig.add_trace(go.Scatter(x=ph_x, y=ach, mode="markers", xaxis=xa, yaxis=ya,
                                     marker=dict(symbol="circle-open", size=6, color=ORANGE,
                                                 line=dict(width=1.6))))
            fig.add_trace(go.Scatter(x=req_x, y=req, mode="lines", xaxis=xa, yaxis=ya,
                                     line=dict(color=BLUE, width=1.8)))
        else:
            gx, gy, req = group[r]
            fig.add_trace(go.Scatter(x=gx, y=gy, mode="markers", xaxis=xa, yaxis=ya,
                                     marker=dict(symbol="circle-open", size=4.5, color=ORANGE,
                                                 line=dict(width=1.3))))
            fig.add_trace(go.Scatter(x=req_x, y=req, mode="lines", xaxis=xa, yaxis=ya,
                                     line=dict(color=BLUE, width=1.5)))

        add_text("x [μm]", (cols[c][0] + cols[c][1]) / 2, bot + xlab_off)

    mid = (top + bot) / 2
    add_text("Post side width [nm]", 11.5, mid + 1, angle=-90)
    add_text("Phase delay [cycles]", 297.5, mid + 1, angle=-90)
    add_text("Group delay [cycles]", 571.5, mid + 1, angle=-90)

    b0, b1 = boxes[r]
    shapes.append(dict(type="rect", xref="paper", yref="paper", x0=fx(1.5), x1=fx(828.5),
                       y0=fy(b1), y1=fy(b0), line=dict(color="#555555", width=1.5), layer="below"))
    add_text(labels[r], 3, label_y[r], size=16, color="#111111", xanchor="left", bold=True)
    add_text(titles[r], 414, title_y[r], size=20, color="#ec2027")
    add_legend(*leg_ph[r])
    add_legend(*leg_gd[r])

fig.update_layout(width=W, height=H, autosize=False, margin=dict(l=0, r=0, t=0, b=0, pad=0),
                  plot_bgcolor="white", paper_bgcolor="white", showlegend=False,
                  annotations=annotations, shapes=shapes, **layout)

# pin the figure to the top-left corner of the page (no body margin)
pin = ("var gd = document.getElementById('{plot_id}');"
       "document.body.style.margin = '0px';"
       "gd.style.position = 'absolute'; gd.style.left = '0px'; gd.style.top = '0px';"
       "gd.style.width = '830px'; gd.style.height = '857px';")
fig.write_html("out.html", post_script=pin,
               config={"responsive": False, "displayModeBar": False})
